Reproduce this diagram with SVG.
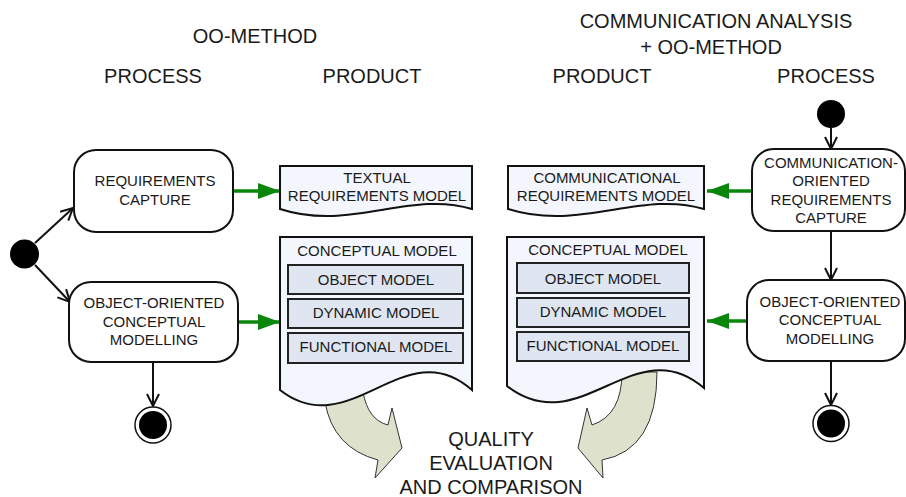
<svg xmlns="http://www.w3.org/2000/svg" width="906" height="497" viewBox="0 0 906 497">
<defs>
<style>
text{font-family:"Liberation Sans",Arial,sans-serif;fill:#1a1a1a;text-anchor:middle}
.h{font-size:20px}
.t{font-size:15px}
.box{fill:#fff;stroke:#111;stroke-width:2}
.doc{fill:#f3f6fc;stroke:#111;stroke-width:2}
.inner{fill:#dfe6f1;stroke:#222;stroke-width:2}
.flow{stroke:#111;stroke-width:2;fill:none;marker-end:url(#open)}
.green{stroke:#0a870a;stroke-width:3.5;fill:none;marker-end:url(#tri)}
.big{fill:#dee2cd;stroke:#333;stroke-width:1}
</style>
<marker id="open" viewBox="0 0 14 14" refX="13" refY="7" markerWidth="14" markerHeight="14" markerUnits="userSpaceOnUse" orient="auto">
<path d="M1,1 L13,7 L1,13" fill="none" stroke="#111" stroke-width="2"/>
</marker>
<marker id="tri" viewBox="0 0 22 16" refX="22" refY="8" markerWidth="22" markerHeight="16" markerUnits="userSpaceOnUse" orient="auto">
<path d="M0,0 L22,8 L0,16 Z" fill="#0a870a"/>
</marker>
</defs>
<rect width="906" height="497" fill="#fff"/>

<g id="headers">
<text class="h" x="255" y="43">OO-METHOD</text>
<text class="h" x="153" y="83">PROCESS</text>
<text class="h" x="372" y="83">PRODUCT</text>
<text class="h" x="716" y="28">COMMUNICATION ANALYSIS</text>
<text class="h" x="711" y="54">+ OO-METHOD</text>
<text class="h" x="602" y="83">PRODUCT</text>
<text class="h" x="826" y="83">PROCESS</text>
</g>

<g id="quality-arrows">
<path class="big" d="M325,392 L325,402 Q333,448 378,460 L375,478 L402,448 L392,408 L388,425 Q368,420 363,392 Z"/>
<path class="big" d="M657,372 Q657,450 602,460 L603,478 L578,448 L587,408 L592,425 Q622,415 622,372 Z"/>
</g>

<g id="connectors">
<line class="flow" x1="35" y1="243" x2="73" y2="208"/>
<line class="flow" x1="35" y1="265" x2="70" y2="302"/>
<line class="flow" x1="153" y1="362" x2="153" y2="406"/>
<line class="flow" x1="831" y1="128" x2="831" y2="149"/>
<line class="flow" x1="831" y1="231" x2="831" y2="280"/>
<line class="flow" x1="831" y1="361" x2="831" y2="405"/>
<line class="green" x1="233" y1="191" x2="280" y2="191"/>
<line class="green" x1="238" y1="322" x2="280" y2="322"/>
<line class="green" x1="752" y1="191" x2="707" y2="191"/>
<line class="green" x1="747" y1="321" x2="707" y2="321"/>
</g>

<g id="start-left"><circle cx="24.5" cy="254" r="14.5" fill="#000"/></g>
<g id="end-left"><circle cx="153" cy="425" r="18" fill="#fff" stroke="#111" stroke-width="1.5"/><circle cx="153" cy="425" r="14" fill="#000"/></g>
<g id="start-right"><circle cx="831" cy="114" r="14" fill="#000"/></g>
<g id="end-right"><circle cx="831" cy="423.5" r="18" fill="#fff" stroke="#111" stroke-width="1.5"/><circle cx="831" cy="423.5" r="14" fill="#000"/></g>

<g id="req-capture">
<rect class="box" x="74" y="150" width="159" height="82" rx="22"/>
<text class="t" x="155" y="186">REQUIREMENTS</text>
<text class="t" x="155" y="205">CAPTURE</text>
</g>

<g id="oo-modelling-left">
<rect class="box" x="69" y="282" width="169" height="80" rx="22"/>
<text class="t" x="154" y="308">OBJECT-ORIENTED</text>
<text class="t" x="154" y="327">CONCEPTUAL</text>
<text class="t" x="154" y="345">MODELLING</text>
</g>

<g id="textual-req-model">
<path class="doc" d="M280,166 H472 V209 C410,190 350,232 280,209 Z"/>
<text class="t" x="377" y="183">TEXTUAL</text>
<text class="t" x="377" y="201">REQUIREMENTS MODEL</text>
</g>

<g id="conceptual-model-left">
<path class="doc" d="M280,237 H472 V390 C405,330 350,445 280,390 Z"/>
<text class="t" x="377" y="256">CONCEPTUAL MODEL</text>
<rect class="inner" x="288" y="265" width="175" height="29"/>
<text class="t" x="376" y="285">OBJECT MODEL</text>
<rect class="inner" x="288" y="299" width="175" height="29"/>
<text class="t" x="376" y="318">DYNAMIC MODEL</text>
<rect class="inner" x="288" y="333" width="175" height="30"/>
<text class="t" x="376" y="352">FUNCTIONAL MODEL</text>
</g>

<g id="comm-req-model">
<path class="doc" d="M508,166 H704 V209 C641,190 580,232 508,209 Z"/>
<text class="t" x="607" y="183">COMMUNICATIONAL</text>
<text class="t" x="606" y="201">REQUIREMENTS MODEL</text>
</g>

<g id="conceptual-model-right">
<path class="doc" d="M507,237 H704 V388 C635,328 580,443 507,386 Z"/>
<text class="t" x="608" y="255">CONCEPTUAL MODEL</text>
<rect class="inner" x="517" y="263" width="172" height="30"/>
<text class="t" x="603" y="284">OBJECT MODEL</text>
<rect class="inner" x="517" y="298" width="172" height="29"/>
<text class="t" x="603" y="317">DYNAMIC MODEL</text>
<rect class="inner" x="517" y="332" width="172" height="29"/>
<text class="t" x="603" y="351">FUNCTIONAL MODEL</text>
</g>

<g id="comm-req-capture">
<rect class="box" x="752" y="149" width="153" height="82" rx="22"/>
<text class="t" x="831" y="168">COMMUNICATION-</text>
<text class="t" x="831" y="186">ORIENTED</text>
<text class="t" x="831" y="205">REQUIREMENTS</text>
<text class="t" x="831" y="223">CAPTURE</text>
</g>

<g id="oo-modelling-right">
<rect class="box" x="747" y="280" width="158" height="81" rx="22"/>
<text class="t" x="830" y="307">OBJECT-ORIENTED</text>
<text class="t" x="830" y="325">CONCEPTUAL</text>
<text class="t" x="830" y="344">MODELLING</text>
</g>

<g id="quality">
<text class="h" x="491" y="446">QUALITY</text>
<text class="h" x="491" y="470">EVALUATION</text>
<text class="h" x="491" y="494">AND COMPARISON</text>
</g>
</svg>
